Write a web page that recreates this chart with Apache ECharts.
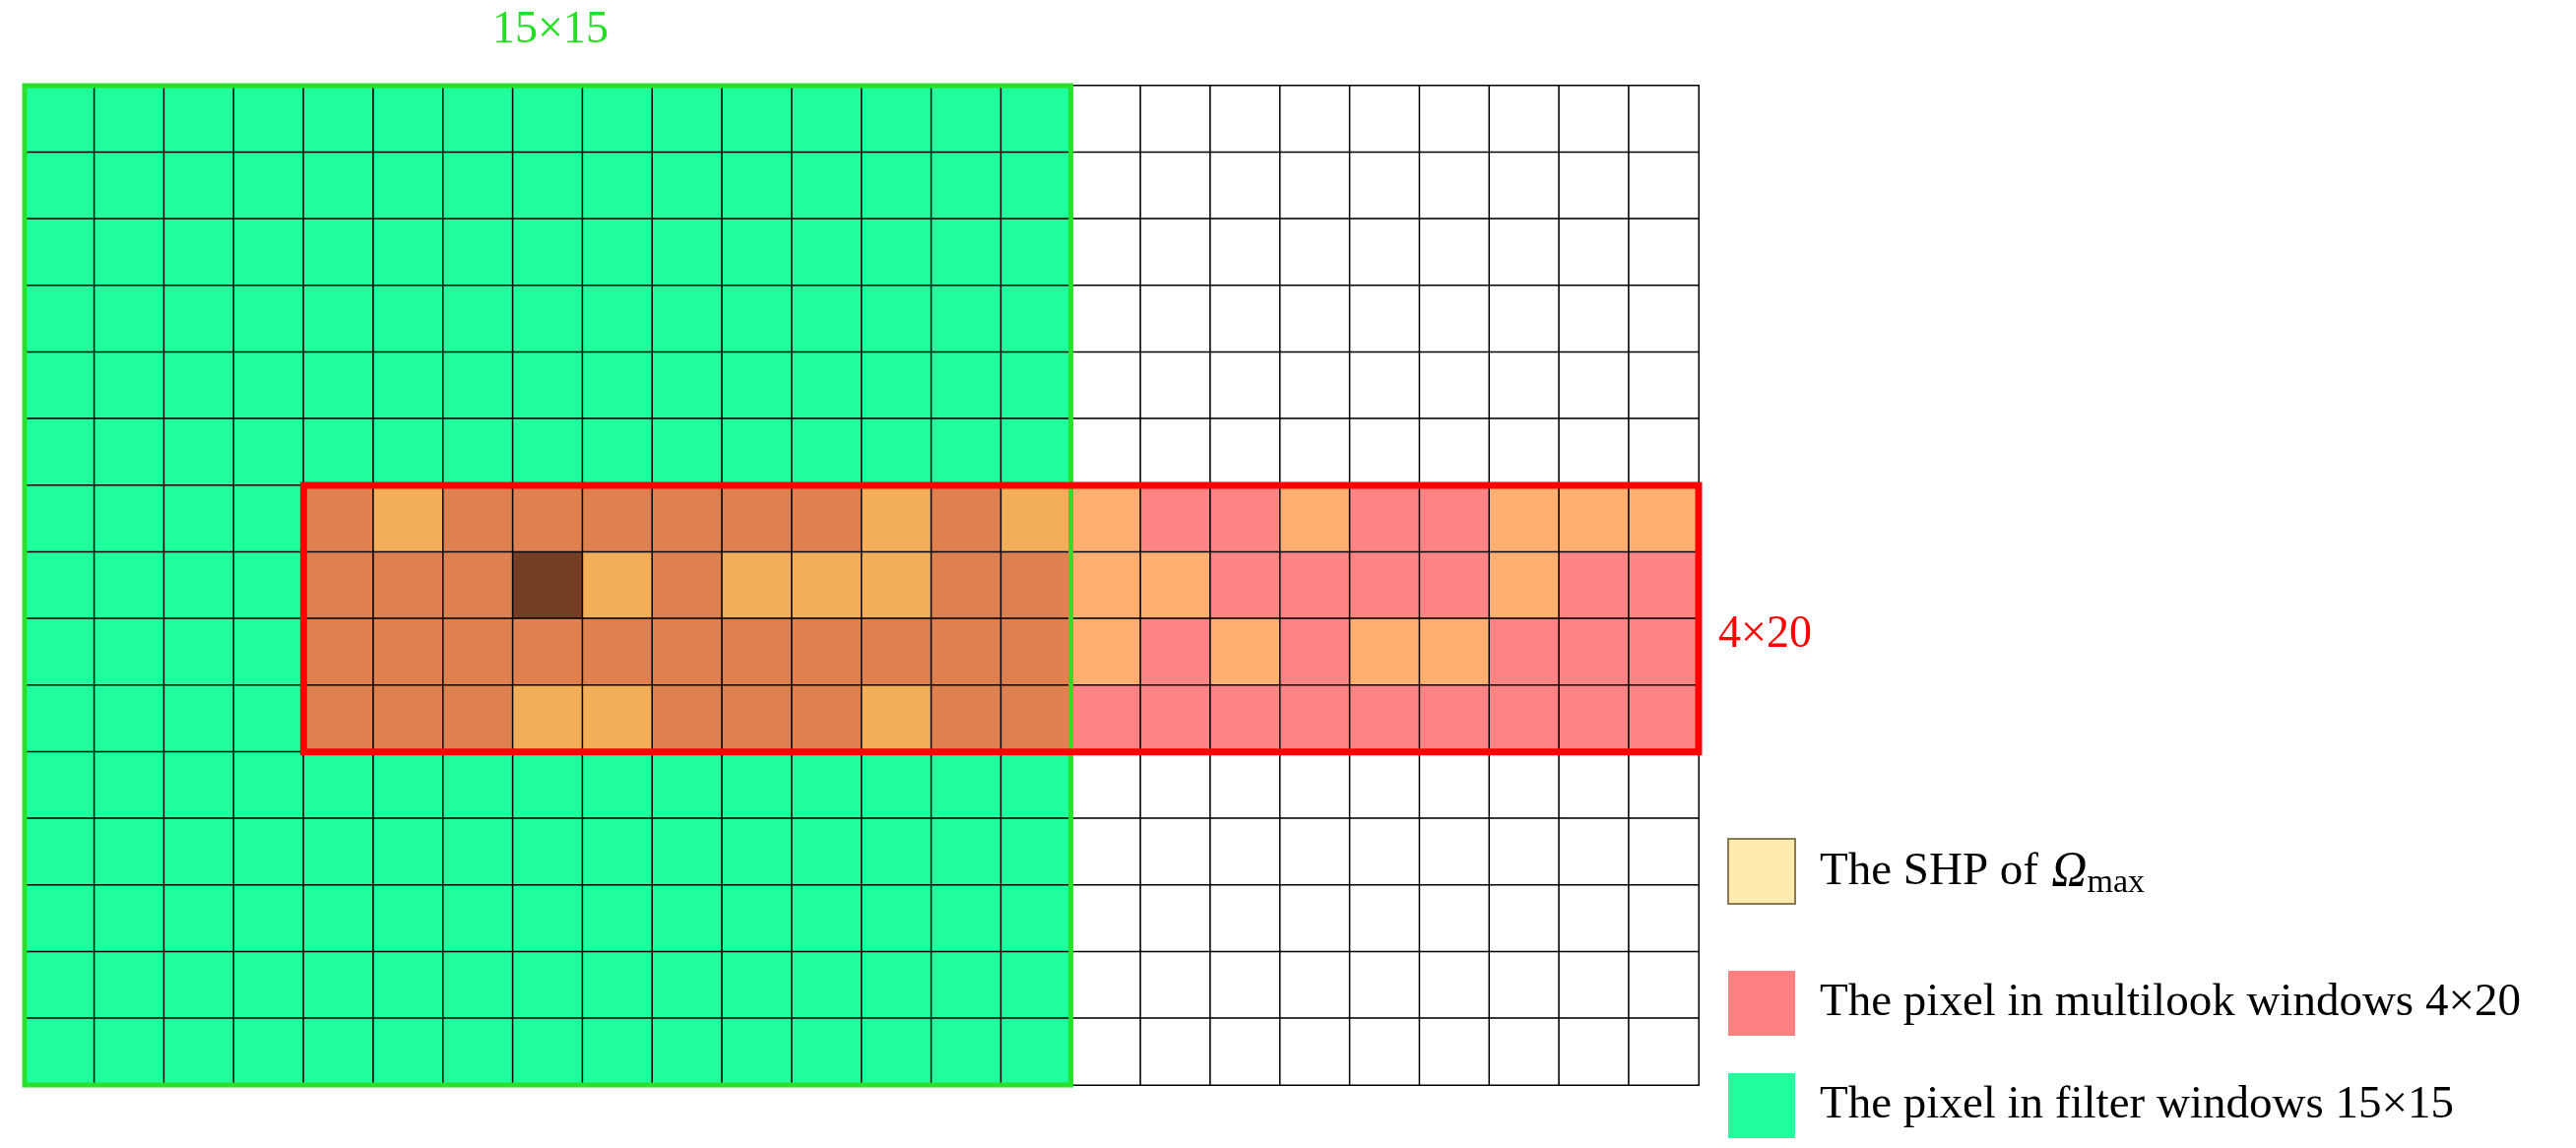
<!DOCTYPE html>
<html>
<head>
<meta charset="utf-8">
<script src="https://cdn.jsdelivr.net/npm/echarts@6/dist/echarts.min.js"></script>
<style>html,body{margin:0;padding:0;background:#fff}#main{width:2616px;height:1166px}</style>
</head>
<body>
<div id="main"></div>
<script>
var nCols = 24, nRows = 15;
// filter window [col0, row0, width, height]
var filterWin = [0, 0, 15, 15];
// multilook window [col0, row0, width, height]
var multiWin = [4, 6, 20, 4];
// SHP flags inside the multilook window (1 = SHP, 2 = centre), rows 6..9, cols 4..23
var shpRows = [
	[0,1,0,0,0,0,0,0,1,0,1, 1,0,0,1,0,0,1,1,1],
	[0,0,0,2,1,0,1,1,1,0,0, 1,1,0,0,0,0,1,0,0],
	[0,0,0,0,0,0,0,0,0,0,0, 1,0,1,0,1,1,0,0,0],
	[0,0,0,1,1,0,0,0,1,0,0, 0,0,0,0,0,0,0,0,0]
];
// 0 white,1 filter,2 overlap,3 overlap SHP,4 multilook,5 multilook SHP,6 centre
var cellColors = ['#ffffff', '#20FF9E', '#DE8050', '#F2AE58', '#FF8585', '#FFB070', '#733E22'];
var legendNames = ['The SHP of', 'The pixel in multilook windows 4×20', 'The pixel in filter windows 15×15'];
var legendColors = ['#FFEBB0', '#FF8080', '#20FF9E'];

var cells = [];
for (var r = 0; r < nRows; r++) {
	for (var c = 0; c < nCols; c++) {
		var inF = c >= filterWin[0] && c < filterWin[0] + filterWin[2] && r >= filterWin[1] && r < filterWin[1] + filterWin[3];
		var inM = c >= multiWin[0] && c < multiWin[0] + multiWin[2] && r >= multiWin[1] && r < multiWin[1] + multiWin[3];
		var code = 0;
		if (inM) {
			var s = shpRows[r - multiWin[1]][c - multiWin[0]];
			if (s === 2) code = 6;
			else if (inF) code = s ? 3 : 2;
			else code = s ? 5 : 4;
		} else if (inF) code = 1;
		cells.push({value: [c, r, code], itemStyle: {color: cellColors[code]}});
	}
}
var cats = function (n) { var a = []; for (var i = 0; i < n; i++) a.push(i); return a; };

function winRect(color, width) {
	return function (params, api) {
		var p0 = api.coord([api.value(0), api.value(1)]);
		var p1 = api.coord([api.value(0) + api.value(2) - 1, api.value(1) + api.value(3) - 1]);
		var sz = api.size([1, 1]);
		return {
			type: 'rect',
			shape: {x: p0[0] - sz[0] / 2, y: p0[1] - sz[1] / 2, width: p1[0] - p0[0] + sz[0], height: p1[1] - p0[1] + sz[1]},
			style: {fill: null, stroke: color, lineWidth: width}
		};
	};
}

var myChart = echarts.init(document.getElementById('main'));
var option = {
	animation: false,
	textStyle: {fontFamily: 'Liberation Serif'},
	grid: {left: 25, top: 87, width: 1700, height: 1015},
	xAxis: {type: 'category', data: cats(nCols), show: false},
	yAxis: {type: 'category', data: cats(nRows), inverse: true, show: false},
	series: [{
		type: 'heatmap',
		data: cells,
		itemStyle: {borderColor: '#000', borderWidth: 1.5}
	}, {
		type: 'custom',
		renderItem: winRect('#2BE02B', 5),
		data: [filterWin],
		z: 5
	}, {
		type: 'custom',
		renderItem: winRect('#FF0000', 7),
		data: [multiWin],
		z: 6
	}],
	graphic: [
		{type: 'text', left: 500, top: 8, style: {text: '15×15', fill: '#22E022', font: '46px "Liberation Serif"'}},
		{type: 'text', left: 1745, top: 622, style: {text: '4×20', fill: '#FF0000', font: '46px "Liberation Serif"'}}
	]
};
var ly = [852, 986, 1090];
legendNames.forEach(function (name, i) {
	option.graphic.push({type: 'rect', shape: {x: 1755, y: ly[i], width: 68, height: 66},
		style: {fill: legendColors[i], stroke: i === 0 ? '#8a7a50' : null, lineWidth: 2}});
	option.graphic.push({type: 'text', left: 1848, top: ly[i] + 9,
		style: i === 0 ? {
			text: '{t|The SHP of}    {o|Ω}{s|max}',
			rich: {t: {font: '47px "Liberation Serif"', fill: '#000'}, o: {font: 'italic 50px "Liberation Serif"', fill: '#000'},
				s: {font: '34px "Liberation Serif"', fill: '#000', padding: [22, 0, 0, 0]}}
		} : {text: name, fill: '#000', font: '47px "Liberation Serif"'}});
});
myChart.setOption(option);
</script>
</body>
</html>
